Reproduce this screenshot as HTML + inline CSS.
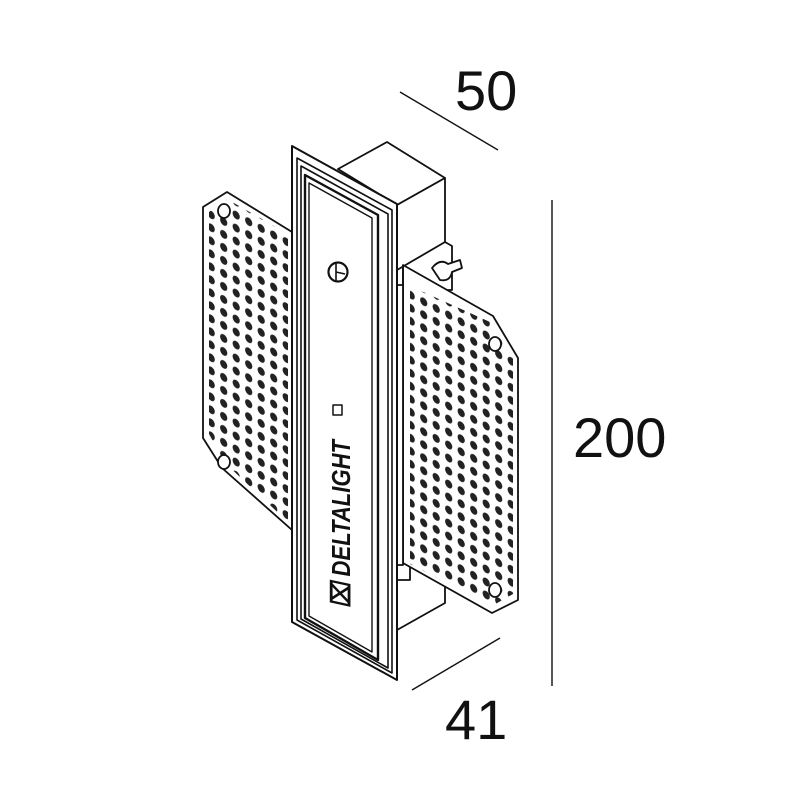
<!DOCTYPE html>
<html><head><meta charset="utf-8"><style>
html,body{margin:0;padding:0;background:#fff;}
svg{display:block;}
text{font-family:"Liberation Sans",sans-serif;}
</style></head><body>
<svg width="800" height="800" viewBox="0 0 800 800" xmlns="http://www.w3.org/2000/svg">
<defs>
<pattern id="holes" width="12.5" height="13" patternUnits="userSpaceOnUse" patternTransform="translate(205,205) skewY(28)">
<ellipse cx="6.2" cy="6.5" rx="3.6" ry="4" fill="#222"/>
</pattern>
<clipPath id="lp"><polygon points="209,212 227,199 288,234 288,522 225,463 209,434"/></clipPath>
<clipPath id="rp"><polygon points="410,286 490,322 513,358 513,594 492,606 410,564"/></clipPath>
</defs>
<g fill="none" stroke="#111" stroke-width="1.8" stroke-linejoin="round">
<polygon points="203,207 227,192 292,232 292,530 222,468 203,438" fill="#fff"/>
<rect x="200" y="190" width="95" height="345" fill="url(#holes)" clip-path="url(#lp)" stroke="none"/>
<ellipse cx="224" cy="211" rx="6" ry="7" fill="#fff"/>
<ellipse cx="224" cy="462" rx="6" ry="7" fill="#fff"/>
<polygon points="338,169 387,142 445,178 397,205" fill="#fff"/>
<polygon points="397,205 445,178 445,603 397,630" fill="#fff"/>
<polygon points="397,270 445,242 452,246 452,290 410,290 410,580 397,580" fill="#fff"/>
<path d="M432 268 q8 -10 16 -4 l12 -4 l2 8 l-10 4 q-2 10 -12 8 z" fill="#fff"/>
<polygon points="403,265 493,316 518,358 518,600 492,613 403,563" fill="#fff"/>
<rect x="400" y="270" width="120" height="345" fill="url(#holes)" clip-path="url(#rp)" stroke="none"/>
<line x1="403" y1="265" x2="403" y2="563"/>
<ellipse cx="495" cy="344" rx="6" ry="7" fill="#fff"/>
<ellipse cx="495" cy="590" rx="6" ry="7" fill="#fff"/>
<rect x="397" y="285" width="6" height="280" fill="#fff"/>
<polygon points="292,146 397,204 397,680 292,622" fill="#fff" stroke-width="2"/>
<polygon points="297,158 392,210 392,673 297,620" stroke-width="1.6"/>
<polygon points="301,166 388,214 388,668 301,619" stroke-width="1.6"/>
<polygon points="305,175 378,215 378,660 305,618" stroke-width="2.4"/>
<polygon points="309,183 372,218 372,652 309,616" stroke-width="1.4"/>
<circle cx="338" cy="272" r="9.5" fill="#fff" stroke-width="2.2"/>
<path d="M336 263 L336 281 M336 272 L345 274" stroke-width="1.6"/>
<rect x="333" y="405" width="9" height="10" stroke-width="1.5"/>
<line x1="400" y1="92" x2="498" y2="150" stroke-width="1.4"/>
<line x1="552" y1="200" x2="552" y2="686" stroke-width="1.4"/>
<line x1="412" y1="690" x2="500" y2="638" stroke-width="1.4"/>
</g>
<text x="0" y="0" transform="translate(350,608) rotate(-90)" font-size="26" font-weight="bold" font-style="italic" fill="#111" textLength="168" lengthAdjust="spacingAndGlyphs">⌧ DELTALIGHT</text>
<text x="455" y="110" font-size="56" fill="#111">50</text>
<text x="573" y="457" font-size="56" fill="#111">200</text>
<text x="445" y="739" font-size="56" fill="#111">41</text>
</svg>
</body></html>
